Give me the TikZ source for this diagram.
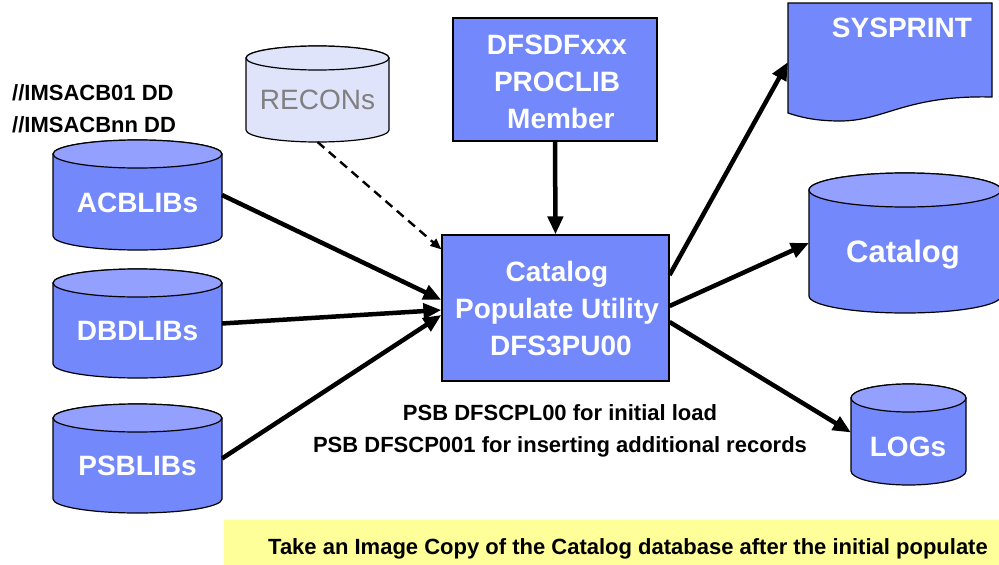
\documentclass[tikz,border=0pt]{standalone}
\usepackage{fontspec}
\setmainfont{Liberation Sans}
\usetikzlibrary{arrows.meta,calc}
\definecolor{boxblue}{RGB}{115,136,250}
\definecolor{topblue}{RGB}{148,160,253}
\definecolor{reconfill}{RGB}{224,228,250}
\definecolor{recongrey}{RGB}{128,128,128}
\definecolor{noteyellow}{RGB}{255,255,153}
\newcommand\drawcyl[5]{%
  \path[draw=black,line width=1.2pt,fill=#4]
    ([yshift=-#3]#1.north west) -- ([yshift=#3]#1.south west)
    arc[start angle=180,end angle=360,x radius=#2,y radius=#3]
    -- ([yshift=-#3]#1.north east)
    arc[start angle=0,end angle=180,x radius=#2,y radius=#3] -- cycle;
  \path[draw=black,line width=1.2pt,fill=#5] ([yshift=-#3]#1.north) ellipse[x radius=#2,y radius=#3];
}
\tikzset{
  cylframe/.style={inner sep=0pt,outer sep=0pt},
  bigtext/.style={text=white,font=\bfseries\fontsize{28}{37}\selectfont,align=center},
  procbox/.style={draw=black,line width=1.2pt,fill=boxblue,inner sep=0pt},
  flow/.style={line width=4.5pt,-{Triangle[length=18pt,width=15pt]}},
  dashflow/.style={line width=2.4pt,dash pattern=on 9pt off 6pt,-{Triangle[length=11pt,width=9pt]}},
  blacktext/.style={font=\bfseries\fontsize{22}{32}\selectfont}
}
\begin{document}
\begin{tikzpicture}[x=1pt,y=-1pt]
\useasboundingbox (0,0) rectangle (999,565);

% DD labels
\node[blacktext,anchor=west,align=left,inner sep=0pt] (ddlabel) at (12,109) {//IMSACB01 DD\\//IMSACBnn DD};

% input cylinders
\node[cylframe,minimum width=169pt,minimum height=110pt] (acb) at (137.5,195) {};
\drawcyl{acb}{84.5pt}{14pt}{boxblue}{topblue}
\node[bigtext] (acbtext) at ([yshift=-8pt]acb.center) {ACBLIBs};

\node[cylframe,minimum width=169pt,minimum height=109pt] (dbd) at (137.5,323.5) {};
\drawcyl{dbd}{84.5pt}{14pt}{boxblue}{topblue}
\node[bigtext] (dbdtext) at ([yshift=-7.5pt]dbd.center) {DBDLIBs};

\node[cylframe,minimum width=169pt,minimum height=109pt] (psb) at (137.5,458.5) {};
\drawcyl{psb}{84.5pt}{14pt}{boxblue}{topblue}
\node[bigtext] (psbtext) at ([yshift=-7.5pt]psb.center) {PSBLIBs};

% RECONs
\node[cylframe,minimum width=143pt,minimum height=96pt] (recon) at (317.5,94) {};
\drawcyl{recon}{71.5pt}{12pt}{reconfill}{reconfill}
\node[text=recongrey,font=\fontsize{28}{34}\selectfont] (recontext) at ([yshift=-6pt]recon.center) {RECONs};

% PROCLIB member box
\node[procbox,minimum width=204pt,minimum height=123pt] (dfs) at (555,79.5) {};
\node[bigtext] (dfstext) at (557,82) {DFSDFxxx\\PROCLIB\\\ Member};

% main utility box
\node[procbox,minimum width=227pt,minimum height=146pt] (main) at (555.5,308) {};
\node[bigtext] (maintext) at (557,309) {Catalog\\Populate Utility\\\ DFS3PU00};

% SYSPRINT document
\node[cylframe,minimum width=204pt,minimum height=110pt] (sys) at (890,58) {};
\path[draw=black,line width=1.2pt,fill=boxblue]
  (sys.north west) -- (sys.north east) -- (992,97)
  .. controls (905,95) and (885,121) .. (840,121)
  .. controls (815,121) and (800,117) .. (788,113) -- cycle;
\node[bigtext] (systext) at (902,28) {SYSPRINT};

% Catalog
\node[cylframe,minimum width=192pt,minimum height=140pt] (cat) at (905,243) {};
\drawcyl{cat}{96pt}{17pt}{boxblue}{topblue}
\node[bigtext,font=\bfseries\fontsize{31}{37}\selectfont] (cattext) at (903,255) {Catalog};

% LOGs
\node[cylframe,minimum width=115pt,minimum height=101pt] (logs) at (908.5,434.5) {};
\drawcyl{logs}{57.5pt}{14pt}{boxblue}{topblue}
\node[bigtext] (logstext) at (908,447) {LOGs};

% PSB notes
\node[blacktext,align=center] (psbnote) at (560,431) {PSB DFSCPL00 for initial load\\PSB DFSCP001 for inserting additional records};

% note box
\node[fill=noteyellow,inner sep=0pt,anchor=north west,minimum width=775pt,minimum height=45pt] (notebox) at (224,520) {};
\node[anchor=west,inner sep=0pt,font=\bfseries\fontsize{22}{26}\selectfont] (notetext) at (268,549) {Take an Image Copy of the Catalog database after the initial populate};

% connectors
\draw[flow] (acb.east) -- ([yshift=8pt]main.west);
\draw[flow] (dbd.east) -- ([yshift=-2pt]main.west);
\draw[flow] (psb.east) -- ([yshift=-7pt]main.west);
\draw[dashflow] (recon.south) -- ([yshift=-15pt]main.north west);
\draw[flow] (dfs.south) -- (main.north);
\draw[flow] ([yshift=33pt]main.east) -- ([yshift=-4pt]sys.west);
\draw[flow] ([yshift=2pt]main.east) -- (cat.west);
\draw[flow] ([yshift=-14pt]main.east) -- ([yshift=2pt]logs.west);
\end{tikzpicture}
\end{document}
